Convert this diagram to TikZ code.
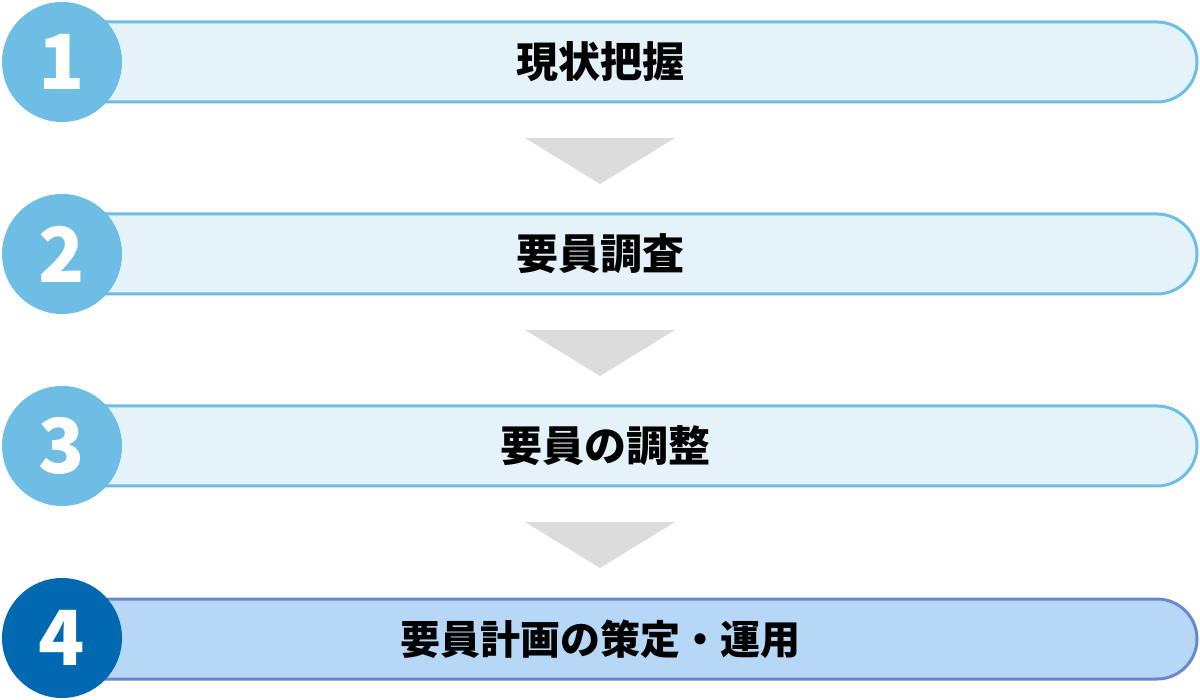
\documentclass[tikz,border=0pt]{standalone}
\usepackage{fontspec}
\newfontfamily\cjk{Noto Sans CJK JP}
\usetikzlibrary{shapes.misc}
\definecolor{circlt}{HTML}{6EBDE4}
\definecolor{barfill}{HTML}{E4F3FA}
\definecolor{barfillb}{HTML}{B6D8F6}
\definecolor{barlineb}{HTML}{6B87CA}
\definecolor{circdk}{HTML}{0169B1}
\definecolor{trigray}{HTML}{DCDCDC}
\tikzset{
  bar/.style={rounded rectangle, rounded rectangle west arc=none, minimum width=1096pt, minimum height=80pt, line width=3pt, inner sep=0pt},
  barlt/.style={bar, draw=circlt, fill=barfill},
  bardk/.style={bar, draw=barlineb, fill=barfillb},
  num/.style={circle, minimum size=120pt, inner sep=0pt, text=white, font=\cjk\bfseries\fontsize{76}{76}\selectfont},
  numlt/.style={num, fill=circlt},
  numdk/.style={num, fill=circdk},
  label/.style={font=\cjk\bfseries\fontsize{42}{44}\selectfont, text=black, inner sep=0pt},
  tri/.style={fill=trigray},
}
\begin{document}
\begin{tikzpicture}[x=1pt,y=-1pt]
\useasboundingbox (0,0) rectangle (1200,700);
\foreach \i/\y in {1/62,2/254,3/446}{
  \node[barlt] (bar\i) at (649,\y) {};
}
\node[bardk] (bar4) at (649,639) {};
\node[numlt] (c1) at (62,62) {1};
\node[numlt] (c2) at (62,254) {2};
\node[numlt] (c3) at (62,446) {3};
\node[numdk] (c4) at (62,638) {4};
\node[label] (t1) at (600,62) {現状把握};
\node[label] (t2) at (600,254) {要員調査};
\node[label] (t3) at (605,446) {要員の調整};
\node[label, font=\cjk\bfseries\fontsize{40}{42}\selectfont] (t4) at (600,639) {要員計画の策定・運用};
\foreach \y in {138,330,522}{
  \fill[tri] (525,\y) -- (675,\y) -- (600,\y+46) -- cycle;
}
\end{tikzpicture}
\end{document}
